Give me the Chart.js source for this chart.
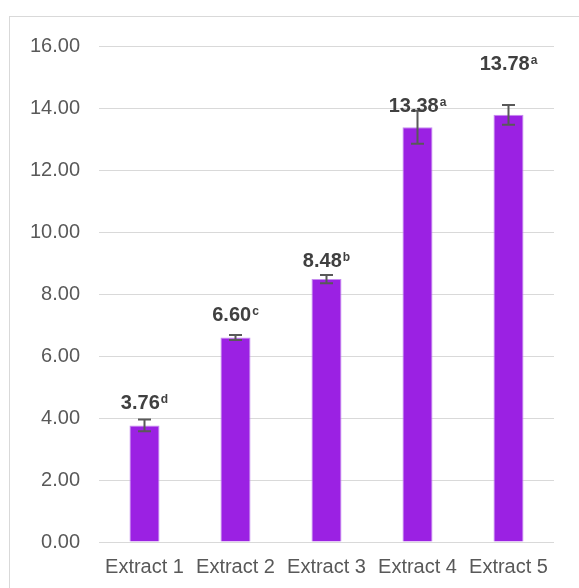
<!DOCTYPE html>
<html>
<head>
<meta charset="utf-8">
<script src="https://cdn.jsdelivr.net/npm/chart.js@4/dist/chart.umd.min.js"></script>
<style>
  html, body { margin: 0; padding: 0; background: #fff; }
  #wrap { position: relative; width: 579px; height: 588px; overflow: hidden; }
  #frame { position: absolute; left: 9px; top: 16px; width: 620px; height: 620px; border: 1px solid #d9d9d9; box-sizing: border-box; }
  #cv { position: absolute; left: 0; top: 0; }
</style>
</head>
<body>
<div id="wrap">
  <div id="frame"></div>
  <canvas id="cv" width="579" height="588"></canvas>
</div>
<script>
const categories = ['Extract 1', 'Extract 2', 'Extract 3', 'Extract 4', 'Extract 5'];
const means = [3.76, 6.60, 8.48, 13.38, 13.78];
const errors = [0.19, 0.08, 0.13, 0.53, 0.32];
const letters = ['d', 'c', 'b', 'a', 'a'];
const yTicks = [0, 2, 4, 6, 8, 10, 12, 14, 16];

const FONT = "'Liberation Sans', Arial, sans-serif";

const errorAndLabels = {
  id: 'errorAndLabels',
  afterDatasetsDraw(chart, args, opts) {
    const ctx = chart.ctx;
    const meta = chart.getDatasetMeta(0);
    const y = chart.scales.y;
    meta.data.forEach((bar, i) => {
      const x = bar.x;
      const top = y.getPixelForValue(means[i] + errors[i]);
      const bot = y.getPixelForValue(means[i] - errors[i]);
      ctx.save();
      ctx.strokeStyle = '#595959';
      ctx.lineWidth = 2;
      ctx.beginPath();
      ctx.moveTo(x, top); ctx.lineTo(x, bot);
      ctx.moveTo(x - 6.5, top); ctx.lineTo(x + 6.5, top);
      ctx.moveTo(x - 6.5, bot); ctx.lineTo(x + 6.5, bot);
      ctx.stroke();
      const main = means[i].toFixed(2);
      const sup = letters[i];
      ctx.fillStyle = '#404040';
      ctx.textBaseline = 'alphabetic';
      ctx.font = 'bold 20px ' + FONT;
      const wMain = ctx.measureText(main).width;
      ctx.font = 'bold 12px ' + FONT;
      const wSup = ctx.measureText(sup).width;
      const total = wMain + wSup + 1;
      const left = x - total / 2;
      const base = bar.y - opts.offsets[i];
      ctx.textAlign = 'left';
      ctx.font = 'bold 20px ' + FONT;
      ctx.fillText(main, left, base);
      ctx.font = 'bold 12px ' + FONT;
      ctx.fillText(sup, left + wMain + 1, base - 6);
      ctx.restore();
    });
  }
};

new Chart(document.getElementById('cv'), {
  type: 'bar',
  data: {
    labels: categories,
    datasets: [{
      data: means,
      backgroundColor: '#9B21E3',
      borderColor: '#C58CF0',
      borderWidth: 1,
      barPercentage: 0.33,
      categoryPercentage: 1
    }]
  },
  options: {
    responsive: false,
    animation: false,
    devicePixelRatio: 1,
    layout: { padding: { top: 46, right: 25, left: 0, bottom: 0 } },
    plugins: {
      legend: { display: false },
      tooltip: { enabled: false },
      errorAndLabels: { offsets: [16, 16, 12.5, 15.5, 45] }
    },
    scales: {
      x: {
        grid: { display: false },
        border: { display: false },
        ticks: { color: '#595959', font: { size: 20, family: FONT }, padding: 5, maxRotation: 0, autoSkip: false },
        afterFit: s => { s.height = 46; }
      },
      y: {
        min: 0, max: 16,
        afterBuildTicks: s => { s.ticks = yTicks.map(v => ({ value: v })); },
        grid: { color: '#d9d9d9', lineWidth: 1, drawTicks: false },
        border: { display: false },
        ticks: { color: '#595959', font: { size: 20, family: FONT }, padding: 19, callback: v => Number(v).toFixed(2) },
        afterFit: s => { s.width = 99; }
      }
    }
  },
  plugins: [errorAndLabels]
});
</script>
</body>
</html>
